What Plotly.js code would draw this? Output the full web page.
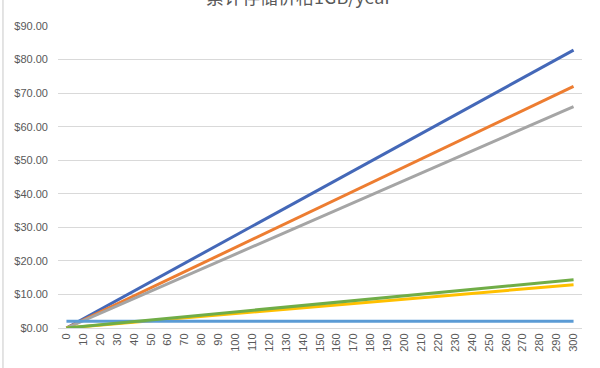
<!DOCTYPE html>
<html>
<head>
<meta charset="utf-8">
<script src="https://cdn.plot.ly/plotly-3.0.1.min.js"></script>
<style>html,body{margin:0;padding:0;background:#fff;}#chart{width:600px;height:368px;}</style>
</head>
<body>
<div id="chart"></div>
<script>
const categories = ["0","10","20","30","40","50","60","70","80","90","100","110","120","130","140","150","160","170","180","190","200","210","220","230","240","250","260","270","280","290","300"];
const seriesBlue = [0,2.76,5.52,8.28,11.04,13.8,16.56,19.32,22.08,24.84,27.6,30.36,33.12,35.88,38.64,41.4,44.16,46.92,49.68,52.44,55.2,57.96,60.72,63.48,66.24,69,71.76,74.52,77.28,80.04,82.8];
const seriesOrange = [0,2.4,4.8,7.2,9.6,12,14.4,16.8,19.2,21.6,24,26.4,28.8,31.2,33.6,36,38.4,40.8,43.2,45.6,48,50.4,52.8,55.2,57.6,60,62.4,64.8,67.2,69.6,72];
const seriesGray = [0,2.2,4.4,6.6,8.8,11,13.2,15.4,17.6,19.8,22,24.2,26.4,28.6,30.8,33,35.2,37.4,39.6,41.8,44,46.2,48.4,50.6,52.8,55,57.2,59.4,61.6,63.8,66];
const seriesYellow = [0,0.43,0.86,1.29,1.72,2.15,2.58,3.01,3.44,3.87,4.3,4.73,5.16,5.59,6.02,6.45,6.88,7.31,7.74,8.17,8.6,9.03,9.46,9.89,10.32,10.75,11.18,11.61,12.04,12.47,12.9];
const seriesLightBlue = [2,2,2,2,2,2,2,2,2,2,2,2,2,2,2,2,2,2,2,2,2,2,2,2,2,2,2,2,2,2,2];
const seriesGreen = [0,0.48,0.96,1.44,1.92,2.4,2.88,3.36,3.84,4.32,4.8,5.28,5.76,6.24,6.72,7.2,7.68,8.16,8.64,9.12,9.6,10.08,10.56,11.04,11.52,12,12.48,12.96,13.44,13.92,14.4];
const titleText = "累计存储价格1GB/year";

const series = [
  {y: seriesBlue, color: "#4468B8"},
  {y: seriesOrange, color: "#ED7D31"},
  {y: seriesGray, color: "#A5A5A5"},
  {y: seriesYellow, color: "#FFC000"},
  {y: seriesLightBlue, color: "#5B9BD5"},
  {y: seriesGreen, color: "#70AD47"}
];
const traces = series.map(s => ({
  x: categories, y: s.y, type: "scatter", mode: "lines",
  line: {color: s.color, width: 3}, hoverinfo: "none", showlegend: false
}));

const layout = {
  width: 600, height: 368,
  margin: {l: 58, r: 18, t: 26, b: 40},
  paper_bgcolor: "#fff", plot_bgcolor: "#fff",
  font: {family: "Liberation Sans, Arial, sans-serif", color: "#595959", size: 11},
  xaxis: {
    type: "category", range: [-0.5, 30.5], tickangle: -90,
    showgrid: false, showline: true, linecolor: "#D9D9D9", linewidth: 1,
    ticks: "", tickfont: {size: 11, color: "#595959"}, zeroline: false, fixedrange: true
  },
  yaxis: {
    range: [0, 90], dtick: 10, tickprefix: "$", tickformat: ".2f",
    showgrid: true, gridcolor: "#D9D9D9", gridwidth: 1, zeroline: false,
    ticks: "", ticklabelstandoff: 9, tickfont: {size: 11, color: "#595959"}, fixedrange: true
  },
  annotations: [{
    text: titleText, xref: "paper", yref: "paper", x: 0.46, y: 1.05,
    xanchor: "center", yanchor: "bottom", showarrow: false,
    font: {family: "Noto Sans CJK SC, Liberation Sans, sans-serif", size: 18, color: "#595959"}
  }],
  shapes: [{
    type: "line", xref: "paper", yref: "paper",
    x0: -0.105, x1: -0.105, y0: -0.2, y1: 1.2,
    line: {color: "#C8C8C8", width: 1}
  }]
};
Plotly.newPlot("chart", traces, layout, {staticPlot: true, displayModeBar: false});
</script>
</body>
</html>
